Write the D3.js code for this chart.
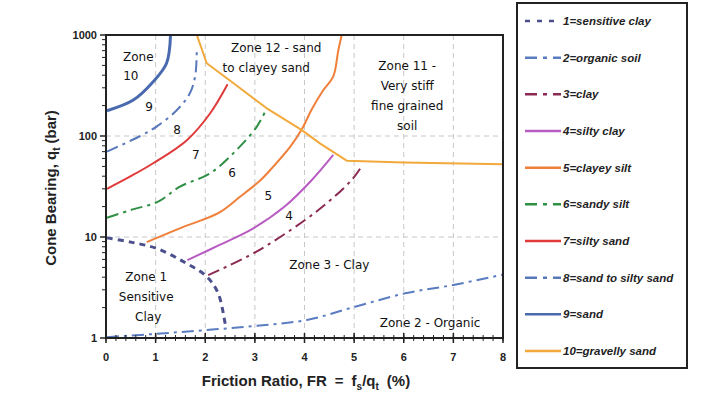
<!DOCTYPE html>
<html>
<head>
<meta charset="utf-8">
<script src="https://cdn.jsdelivr.net/npm/d3@7"></script>
<style>
body{margin:0;background:#fff;}
</style>
</head>
<body>
<div id="chart"></div>
<script>
// boundary curves, [friction ratio %, cone bearing bar]
var sensitiveClay=[[0.02,9.8],[0.5,8.9],[1.02,7.7],[1.56,5.7],[2.03,4.05],[2.26,2.77],[2.4,1.4],[2.42,1.25]];
var organicSoil=[[0.02,1.02],[1.02,1.1],[2.03,1.2],[3.04,1.32],[4.05,1.51],[5.02,2.04],[6.03,2.77],[7.0,3.35],[8,4.25]];
var clay=[[2.06,4.2],[3.04,7.2],[4.28,18.5],[4.95,36.7],[5.15,50]];
var siltyClay=[[1.64,5.9],[2.3,8.4],[2.97,12.2],[3.6,20],[4.11,35],[4.58,65]];
var clayeySilt=[[0.82,8.9],[1.56,12.6],[2.26,17.2],[2.7,25],[3.1,36],[3.37,49.7],[3.71,78],[3.94,115],[4.15,185],[4.38,285],[4.58,390],[4.68,700],[4.75,1000]];
var sandySilt=[[0.02,15.5],[0.5,18.5],[1.05,22.4],[1.49,31.5],[2.1,42.8],[2.63,72.7],[3.04,124],[3.24,188]];
var siltySand=[[0.02,30],[0.5,40],[0.95,53.7],[1.63,91],[2.1,168],[2.45,325]];
var sandToSiltySand=[[0.02,70],[0.69,100],[1.02,124],[1.43,181],[1.69,265],[1.8,400],[1.83,760]];
var sand=[[0.02,178],[0.55,227],[0.95,345],[1.22,525],[1.3,1000]];
var gravellySand=[[1.83,1000],[2.03,525],[2.57,333],[3.24,188],[3.94,115],[4.31,84.5],[4.85,57],[6,54.5],[8,52.5]];

var seriesNames=["1=sensitive clay","2=organic soil","3=clay","4=silty clay","5=clayey silt","6=sandy silt","7=silty sand","8=sand to silty sand","9=sand","10=gravelly sand"];
var seriesData=[sensitiveClay,organicSoil,clay,siltyClay,clayeySilt,sandySilt,siltySand,sandToSiltySand,sand,gravellySand];
var colors=["#4b4f8c","#5a7cc0","#8b2a52","#b85cc2","#f07f3a","#2f8f45","#e03a3a","#5878bb","#4a6ab0","#f2a93b"];
var dashes=["6,5","12,5,3,5","12,5,3,5",null,null,"12,5,3,5",null,"12,5,3,5",null,null];
var widths=[3,2,2,2,2,2,2,2,3,2];

var xTicks=[0,1,2,3,4,5,6,7,8];
var yTicks=[1,10,100,1000];

// zone labels: [text, x, y]
var zoneLabels=[
    ["Zone",0.65,606],["10",0.5,393],["9",0.87,194],["8",1.43,115],["7",1.81,65],
    ["6",2.54,43],["5",3.27,25.5],["4",3.69,16.1],
    ["Zone 1",0.81,4.0],["Sensitive",0.81,2.55],["Clay",0.85,1.61],
    ["Zone 3 - Clay",4.5,5.28],["Zone 2 - Organic",6.53,1.41],
    ["Zone 12 - sand",3.43,743],["to clayey sand",3.23,471],
    ["Zone 11 -",6.07,493],["Very stiff",6.07,313],["fine grained",6.07,198],["soil",6.07,126]
];

var W=703,H=420;
var svg=d3.select("#chart").append("svg").attr("width",W).attr("height",H);

var x=d3.scaleLinear().domain([0,8]).range([106,503]);
var y=d3.scaleLog().domain([1,1000]).range([338,35]);

// grid
svg.selectAll(".vg").data(xTicks.slice(1,-1)).enter().append("line")
    .attr("x1",function(d){return x(d);}).attr("x2",function(d){return x(d);})
    .attr("y1",y(1000)).attr("y2",y(1))
    .style("stroke","#c8c8c8").style("stroke-width",1).style("stroke-dasharray","5,4");
svg.selectAll(".hg").data([10,100]).enter().append("line")
    .attr("x1",x(0)).attr("x2",x(8))
    .attr("y1",function(d){return y(d);}).attr("y2",function(d){return y(d);})
    .style("stroke","#c8c8c8").style("stroke-width",1).style("stroke-dasharray","5,4");

svg.append("clipPath").attr("id","clip").append("rect")
    .attr("x",x(0)).attr("y",y(1000)).attr("width",x(8)-x(0)).attr("height",y(1)-y(1000));

var line=d3.line().x(function(d){return x(d[0]);}).y(function(d){return y(d[1]);}).curve(d3.curveCatmullRom.alpha(0.5));
var lineStraight=d3.line().x(function(d){return x(d[0]);}).y(function(d){return y(d[1]);});

var g=svg.append("g").attr("clip-path","url(#clip)");
for(var k=0;k<seriesData.length;k++){
    g.append("path").datum(seriesData[k])
        .attr("d",k==9?lineStraight:line)
        .style("fill","none")
        .style("stroke",colors[k])
        .style("stroke-width",widths[k])
        .style("stroke-dasharray",dashes[k])
        .style("stroke-linejoin","round");
}

// zone labels
svg.selectAll(".zl").data(zoneLabels).enter().append("text")
    .attr("x",function(d){return x(d[1]);})
    .attr("y",function(d){return y(d[2]);})
    .attr("dy","0.35em")
    .attr("text-anchor","middle")
    .style("font-family","DejaVu Sans")
    .style("font-size","12px")
    .style("fill","#111")
    .text(function(d){return d[0];});

// frame
svg.append("rect").attr("x",x(0)).attr("y",y(1000)).attr("width",x(8)-x(0)).attr("height",y(1)-y(1000))
    .style("fill","none").style("stroke","#222").style("stroke-width",2);

// x ticks
var xMinor=d3.range(0,8.001,0.2);
svg.selectAll(".xm").data(xMinor).enter().append("line")
    .attr("x1",function(d){return x(d);}).attr("x2",function(d){return x(d);})
    .attr("y1",y(1)-3).attr("y2",y(1)+3)
    .style("stroke","#222").style("stroke-width",1);
svg.selectAll(".xM").data(xTicks).enter().append("line")
    .attr("x1",function(d){return x(d);}).attr("x2",function(d){return x(d);})
    .attr("y1",y(1)-5).attr("y2",y(1)+5)
    .style("stroke","#222").style("stroke-width",1.5);
svg.selectAll(".xl").data(xTicks).enter().append("text")
    .attr("x",function(d){return x(d);}).attr("y",361)
    .attr("text-anchor","middle")
    .style("font-family","Liberation Sans").style("font-weight","bold").style("font-size","11px")
    .style("fill","#222")
    .text(function(d){return d;});

// y ticks
var yMinor=[];
[1,10,100].forEach(function(b){for(var m=2;m<10;m++)yMinor.push(b*m);});
svg.selectAll(".ym").data(yMinor).enter().append("line")
    .attr("x1",x(0)-4).attr("x2",x(0))
    .attr("y1",function(d){return y(d);}).attr("y2",function(d){return y(d);})
    .style("stroke","#222").style("stroke-width",1);
svg.selectAll(".yM").data(yTicks).enter().append("line")
    .attr("x1",x(0)-6).attr("x2",x(0))
    .attr("y1",function(d){return y(d);}).attr("y2",function(d){return y(d);})
    .style("stroke","#222").style("stroke-width",1.5);
svg.selectAll(".yl").data(yTicks).enter().append("text")
    .attr("x",x(0)-9).attr("y",function(d){return y(d);})
    .attr("dy","0.35em")
    .attr("text-anchor","end")
    .style("font-family","Liberation Sans").style("font-weight","bold").style("font-size","11px")
    .style("fill","#222")
    .text(function(d){return d;});

// axis titles
var xt=svg.append("text").attr("x",306).attr("y",386).attr("text-anchor","middle")
    .style("font-family","Liberation Sans").style("font-weight","bold").style("font-size","15px").style("fill","#222");
xt.append("tspan").text("Friction Ratio, FR");
xt.append("tspan").attr("dx",8).text("=");
xt.append("tspan").attr("dx",8).text("f");
xt.append("tspan").attr("dy",4).style("font-size","10px").text("s");
xt.append("tspan").attr("dy",-4).text("/q");
xt.append("tspan").attr("dy",4).style("font-size","10px").text("t");
xt.append("tspan").attr("dy",-4).attr("dx",8).text("(%)");

var yt=svg.append("text").attr("transform","translate(56,188) rotate(-90)").attr("text-anchor","middle")
    .style("font-family","Liberation Sans").style("font-weight","bold").style("font-size","15px").style("fill","#222");
yt.append("tspan").text("Cone Bearing, q");
yt.append("tspan").attr("dy",4).style("font-size","10px").text("t");
yt.append("tspan").attr("dy",-4).attr("dx",4).text("(bar)");

// legend
var lg=svg.append("g");
lg.append("rect").attr("x",517).attr("y",3).attr("width",170).attr("height",365)
    .style("fill","#fff").style("stroke","#222").style("stroke-width",2);
var ly=d3.scaleLinear().domain([0,9]).range([21,351]);
var items=lg.selectAll(".li").data(seriesNames).enter().append("g")
    .attr("transform",function(d,i){return "translate(0,"+ly(i)+")";});
items.append("line").attr("x1",525).attr("x2",561).attr("y1",0).attr("y2",0)
    .style("stroke",function(d,i){return colors[i];})
    .style("stroke-width",2.5)
    .style("stroke-dasharray",function(d,i){return dashes[i]?(i==0?"5,7":"12,6,4,6"):null;});
items.append("text").attr("x",563).attr("y",0).attr("dy","0.35em")
    .style("font-family","Liberation Sans").style("font-weight","bold").style("font-style","italic")
    .style("font-size","11.5px").style("fill","#222")
    .text(function(d){return d;});
</script>
</body>
</html>
